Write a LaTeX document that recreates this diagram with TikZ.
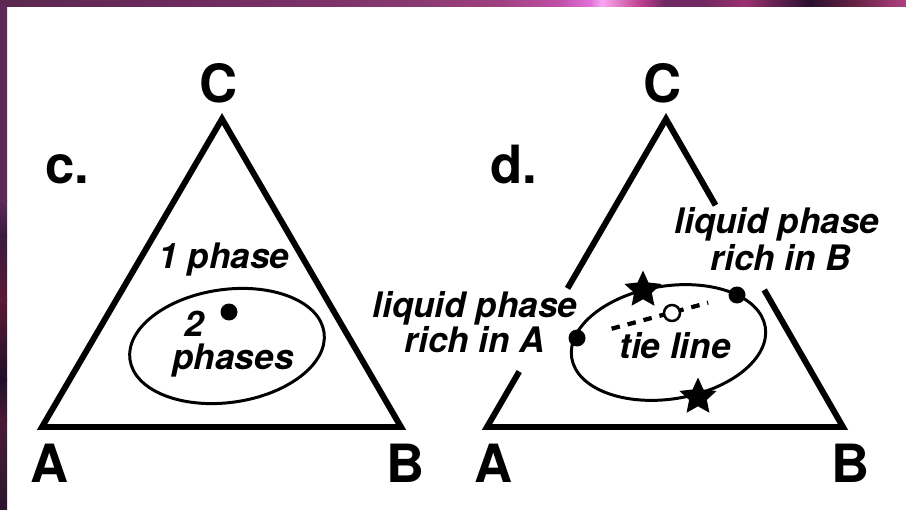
\documentclass[tikz,border=0pt]{standalone}
\usepackage{fontspec}
\setmainfont{TeX Gyre Heros}
\usetikzlibrary{shapes.geometric,calc}
% frame colours, top band
\definecolor{tb0}{HTML}{5A2850}
\definecolor{tb1}{HTML}{6A2A5C}
\definecolor{tb2}{HTML}{7A3068}
\definecolor{tb3}{HTML}{8A3A72}
\definecolor{tb4}{HTML}{A04080}
\definecolor{tb5}{HTML}{C050A8}
\definecolor{tb6}{HTML}{E070D8}
\definecolor{tb7}{HTML}{F8A8F0}
\definecolor{tb8}{HTML}{C04090}
\definecolor{tb9}{HTML}{702860}
\definecolor{tb10}{HTML}{9A3070}
\definecolor{tb11}{HTML}{2A1030}
\definecolor{tb12}{HTML}{602040}
\definecolor{tb13}{HTML}{B04080}
% frame colours, left band
\definecolor{lb0}{HTML}{5C2A58}
\definecolor{lb1}{HTML}{3A1A40}
\definecolor{lb2}{HTML}{5A1A35}
\definecolor{lb3}{HTML}{20102A}
\definecolor{lb4}{HTML}{4A1A35}
\definecolor{lb5}{HTML}{2A1530}

\begin{document}
\begin{tikzpicture}[x=0.02cm,y=-0.02cm,
  tri/.style={line width=3.4pt,line join=miter},
  bound/.style={line width=1.7pt},
  vtx/.style={font=\fontsize{30}{36}\selectfont\bfseries,anchor=base,inner sep=0pt},
  lbl/.style={font=\fontsize{20}{24}\selectfont\bfseries\itshape,anchor=base,inner sep=0pt},
  blob/.style={circle,fill=black,inner sep=0pt,minimum size=0.34cm},
  starpt/.style={star,star points=5,star point ratio=2.1,fill=black,inner sep=0pt,minimum size=0.78cm},
  tie/.style={line width=0.085cm,dash pattern=on 0.17cm off 0.16cm}
]
  \useasboundingbox (0,0) rectangle (906,510);
  \fill[white] (0,0) rectangle (906,510);
  % frame
  \foreach \xa/\xb/\ca/\cb in {0/150/tb0/tb1,150/300/tb1/tb2,300/420/tb2/tb3,420/500/tb3/tb4,
      500/560/tb4/tb5,560/590/tb5/tb6,590/602/tb6/tb7,602/640/tb7/tb8,640/665/tb8/tb9,
      665/700/tb9/tb9,700/745/tb9/tb10,745/810/tb10/tb11,810/850/tb11/tb12,850/906/tb12/tb13}
    \shade[left color=\ca,right color=\cb] (\xa,0) rectangle (\xb,7);
  \foreach \ya/\yb/\ca/\cb in {7/200/lb0/lb0,200/235/lb0/lb1,235/300/lb1/lb2,300/380/lb2/lb3,
      380/420/lb3/lb4,420/510/lb4/lb5}
    \shade[top color=\ca,bottom color=\cb] (0,\ya) rectangle (7,\yb);

  % c. one and two phases
  \coordinate (cA) at (42,427);
  \coordinate (cB) at (401,427);
  \coordinate (cC) at (222,119);
  \draw[tri] (cA) -- (cB) -- (cC) -- cycle;
  \draw[bound,rotate around={8:(227,346)}] (227,346) ellipse [x radius=98, y radius=56.5];
  \node[vtx] (cTag) at (67,183) {c.};
  \node[vtx] (cTop) at (219,103) {C};
  \node[vtx] (cLeft) at (50,482) {A};
  \node[vtx] (cRight) at (406,482) {B};
  \node[lbl] (onePhase) at (224,268) {1 phase};
  \node[lbl] (twoNum) at (194,336) {2};
  \node[lbl] (twoPhases) at (233,369) {phases};
  \node[blob] (cMix) at (229,312) {};

  % d. tie line
  \coordinate (dA) at (487,427);
  \coordinate (dB) at (843,427);
  \coordinate (dC) at (666,119);
  \draw[tri] ($(dA)!0.45!(dC)$) -- (dC) -- ($(dB)!0.72!(dC)$);
  \draw[tri] ($(dA)!0.18!(dC)$) -- (dA) -- (dB) -- ($(dB)!0.445!(dC)$);
  \draw[bound,rotate around={9:(668.5,342.5)}] (668.5,342.5) ellipse [x radius=98, y radius=56.5];
  \node[vtx] (dTag) at (514,183) {d.};
  \node[vtx] (dTop) at (663,103) {C};
  \node[vtx] (dLeft) at (494,482) {A};
  \node[vtx] (dRight) at (851,482) {B};
  \node[lbl] (richAa) at (475,317) {liquid phase};
  \node[lbl] (richAb) at (475,352) {rich in A};
  \node[lbl] (richBa) at (777,233) {liquid phase};
  \node[lbl] (richBb) at (781,270) {rich in B};
  \node[lbl] (tieLbl) at (675,358) {tie line};
  \node[blob] (phaseA) at (577,338) {};
  \node[blob] (phaseB) at (737,295) {};
  \node[starpt] (starTop) at (643,290) {};
  \node[starpt] (starBot) at (698,397) {};
  \draw[tie,shorten <=0.54cm,shorten >=0.42cm] (phaseA) -- (phaseB);
  \node[circle,draw,fill=white,line width=0.05cm,inner sep=0pt,minimum size=0.32cm] (dMix) at (672,313) {};
\end{tikzpicture}
\end{document}
